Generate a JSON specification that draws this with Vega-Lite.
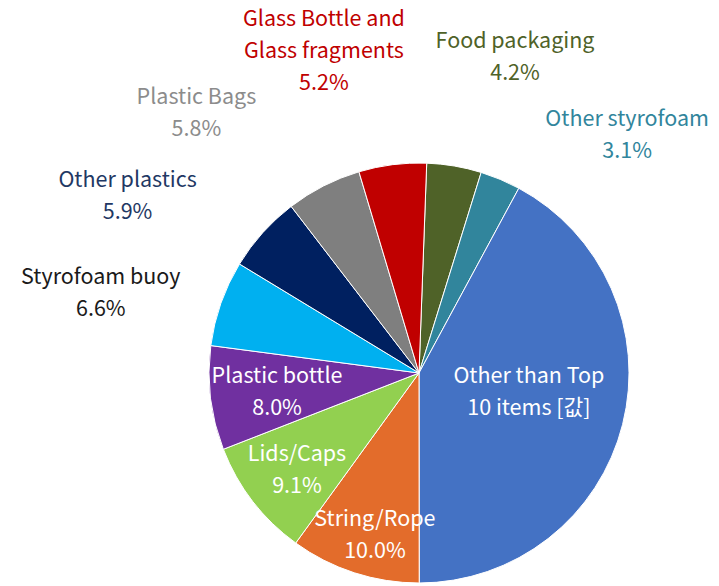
{
  "$schema": "https://vega.github.io/schema/vega-lite/v6.json",
  "width": 420,
  "height": 420,
  "autosize": {"type": "none"},
  "padding": {"left": 209, "top": 163, "right": 90, "bottom": 3},
  "background": "white",
  "view": {"stroke": null},
  "config": {"text": {"font": "Noto Sans CJK KR", "fontSize": 21.5, "lineHeight": 32, "lineBreak": "\n", "align": "center", "baseline": "middle"}},
  "data": {"values": [
    {"idx": 1, "item": "Food packaging", "value": 4.2, "label": "Food packaging\n4.2%"},
    {"idx": 2, "item": "Other styrofoam", "value": 3.1, "label": "Other styrofoam\n3.1%"},
    {"idx": 3, "item": "Other than Top 10 items", "value": 42.1, "label": "Other than Top\n10 items [값]"},
    {"idx": 4, "item": "String/Rope", "value": 10.0, "label": "String/Rope\n10.0%"},
    {"idx": 5, "item": "Lids/Caps", "value": 9.1, "label": "Lids/Caps\n9.1%"},
    {"idx": 6, "item": "Plastic bottle", "value": 8.0, "label": "Plastic bottle\n8.0%"},
    {"idx": 7, "item": "Styrofoam buoy", "value": 6.6, "label": "Styrofoam buoy\n6.6%"},
    {"idx": 8, "item": "Other plastics", "value": 5.9, "label": "Other plastics\n5.9%"},
    {"idx": 9, "item": "Plastic Bags", "value": 5.8, "label": "Plastic Bags\n5.8%"},
    {"idx": 10, "item": "Glass Bottle and Glass fragments", "value": 5.2, "label": "Glass Bottle and\nGlass fragments\n5.2%"}
  ]},
  "encoding": {
    "theta": {"field": "value", "type": "quantitative", "stack": true, "scale": {"range": [0.0367, 6.3199]}},
    "order": {"field": "idx", "type": "quantitative"}
  },
  "layer": [
    {
      "mark": {"type": "arc", "stroke": "white", "strokeWidth": 1},
      "encoding": {
        "color": {"field": "item", "type": "nominal", "legend": null,
          "scale": {
            "domain": ["Food packaging", "Other styrofoam", "Other than Top 10 items", "String/Rope", "Lids/Caps", "Plastic bottle", "Styrofoam buoy", "Other plastics", "Plastic Bags", "Glass Bottle and Glass fragments"],
            "range": ["#4F6228", "#31859C", "#4472C4", "#E36C2B", "#92D050", "#7030A0", "#00B0F0", "#002060", "#7F7F7F", "#C00000"]
          }}
      }
    },
    {
      "mark": {"type": "text", "radius": 110, "thetaOffset": -0.2112, "color": "white"},
      "encoding": {"text": {"condition": {"test": "datum.item === 'Other than Top 10 items'", "field": "label"}, "value": ""}}
    },
    {
      "mark": {"type": "text", "radius": 153, "thetaOffset": -0.0209, "color": "white"},
      "encoding": {"text": {"condition": {"test": "datum.item === 'String/Rope'", "field": "label"}, "value": ""}}
    },
    {
      "mark": {"type": "text", "radius": 147, "thetaOffset": 0.0663, "color": "white"},
      "encoding": {"text": {"condition": {"test": "datum.item === 'Lids/Caps'", "field": "label"}, "value": ""}}
    },
    {
      "mark": {"type": "text", "radius": 142, "thetaOffset": 0.0925, "color": "white"},
      "encoding": {"text": {"condition": {"test": "datum.item === 'Plastic bottle'", "field": "label"}, "value": ""}}
    },
    {
      "mark": {"type": "text", "radius": 332, "thetaOffset": -0.0489, "color": "#1A1A1A"},
      "encoding": {"text": {"condition": {"test": "datum.item === 'Styrofoam buoy'", "field": "label"}, "value": ""}}
    },
    {
      "mark": {"type": "text", "radius": 349, "thetaOffset": -0.1484, "color": "#1F3864"},
      "encoding": {"text": {"condition": {"test": "datum.item === 'Other plastics'", "field": "label"}, "value": ""}}
    },
    {
      "mark": {"type": "text", "radius": 354, "thetaOffset": -0.2077, "color": "#8C8C8C"},
      "encoding": {"text": {"condition": {"test": "datum.item === 'Plastic Bags'", "field": "label"}, "value": ""}}
    },
    {
      "mark": {"type": "text", "radius": 366, "thetaOffset": -0.1361, "color": "#C00000"},
      "encoding": {"text": {"condition": {"test": "datum.item === 'Glass Bottle and Glass fragments'", "field": "label"}, "value": ""}}
    },
    {
      "mark": {"type": "text", "radius": 345, "thetaOffset": 0.1134, "color": "#4F6228"},
      "encoding": {"text": {"condition": {"test": "datum.item === 'Food packaging'", "field": "label"}, "value": ""}}
    },
    {
      "mark": {"type": "text", "radius": 328, "thetaOffset": 0.2897, "color": "#31859C"},
      "encoding": {"text": {"condition": {"test": "datum.item === 'Other styrofoam'", "field": "label"}, "value": ""}}
    }
  ]
}
